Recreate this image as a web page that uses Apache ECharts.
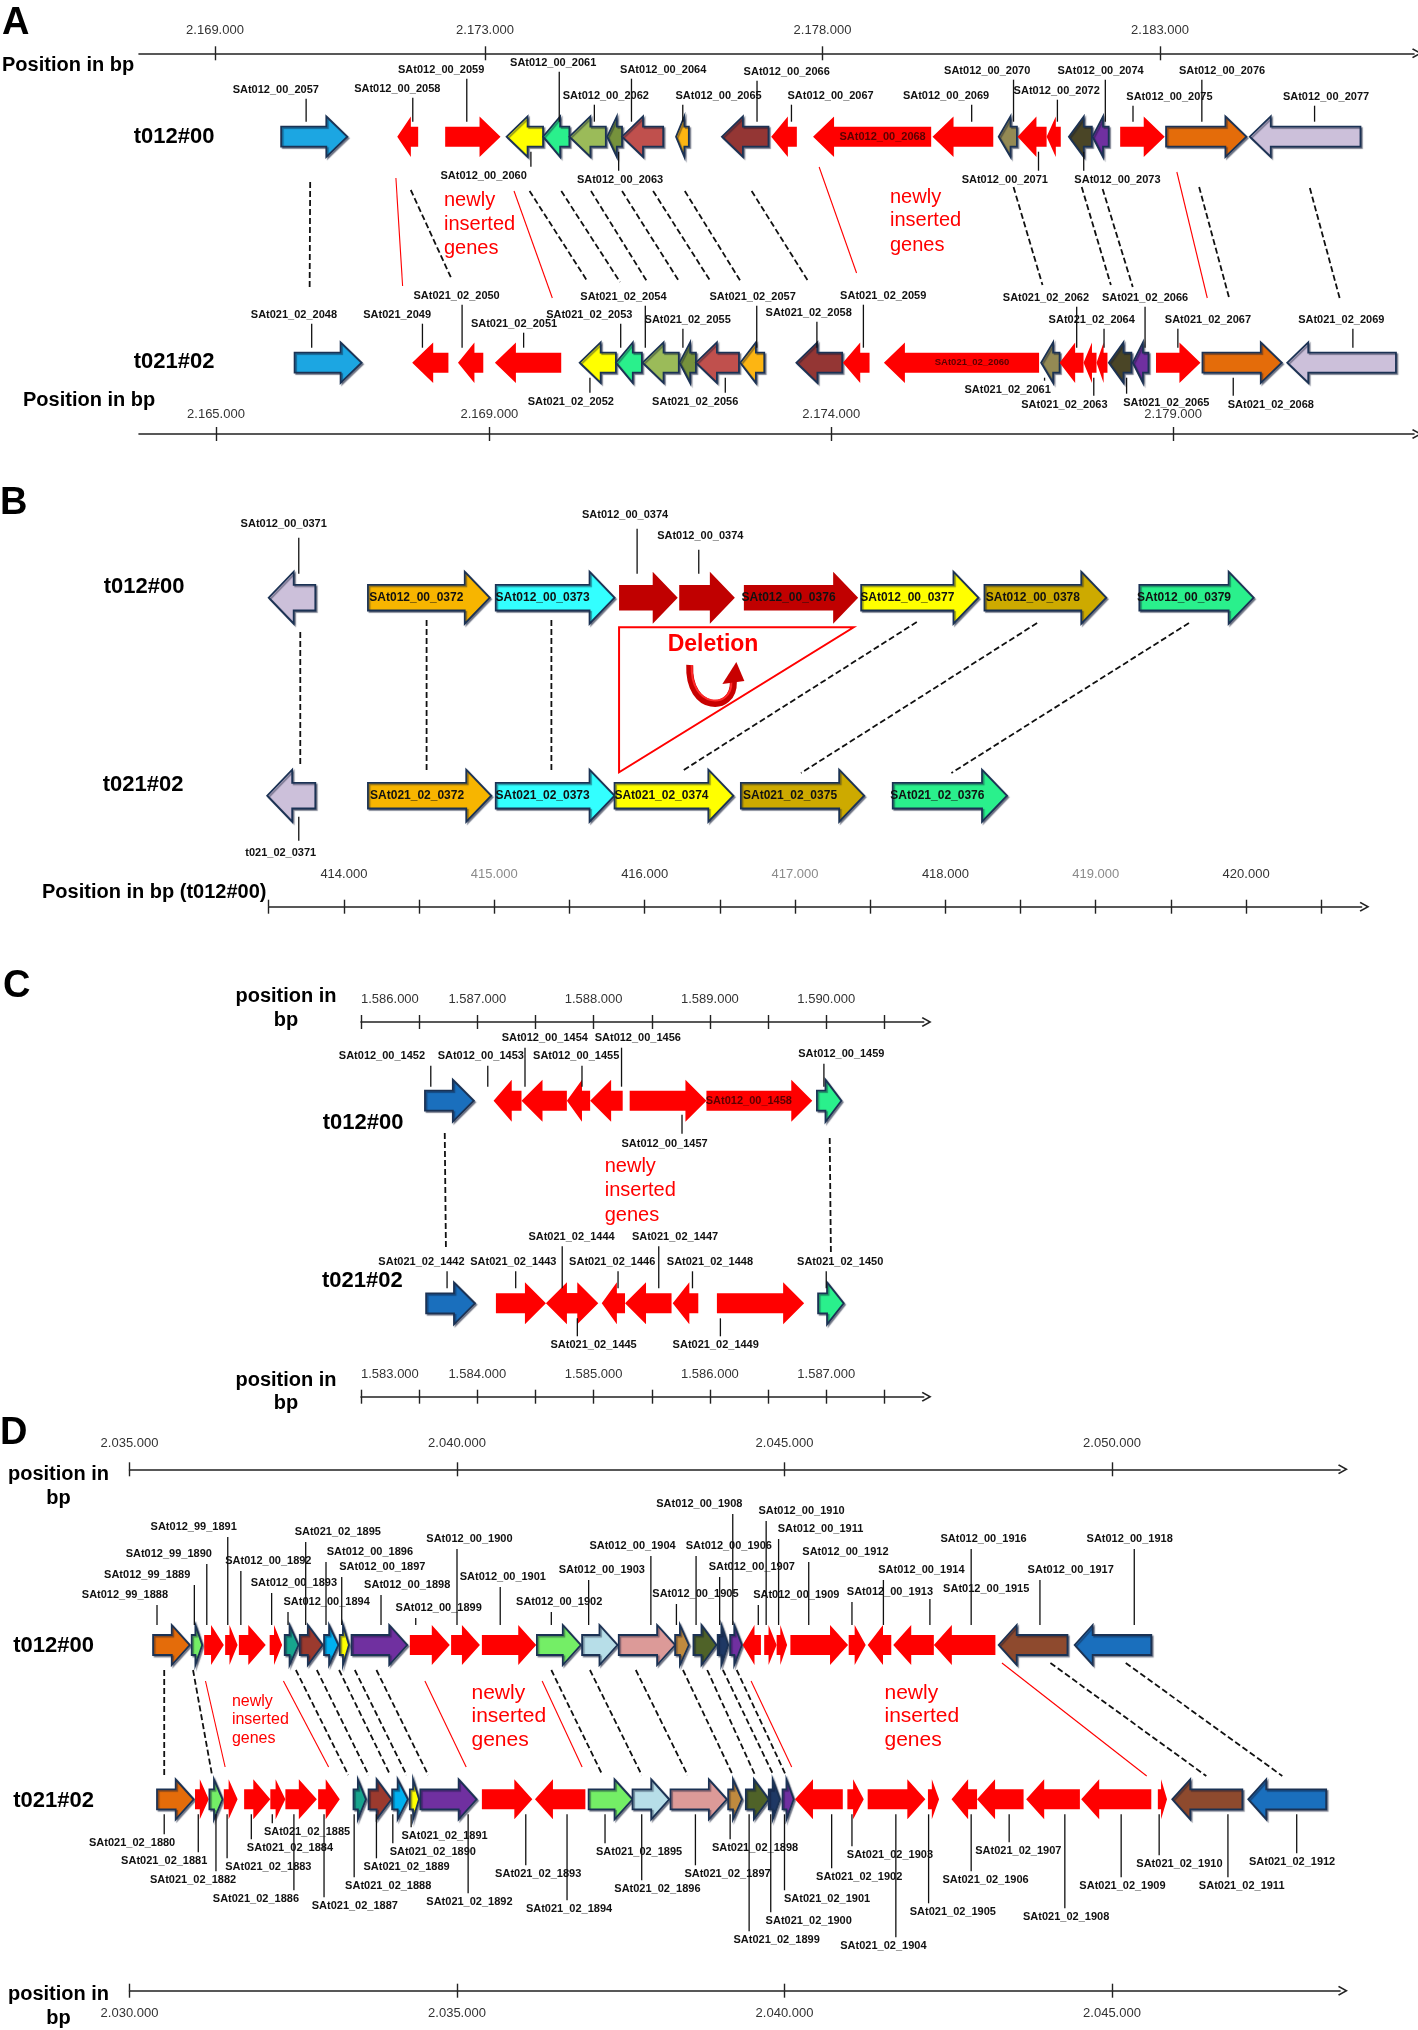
<!DOCTYPE html>
<html><head><meta charset="utf-8">
<script src="https://cdn.jsdelivr.net/npm/echarts@6/dist/echarts.min.js"></script>
<style>html,body{margin:0;padding:0;background:#fff}#chart{width:1418px;height:2030px}</style>
</head><body><div id="chart"></div>
<script>
// ======================= DATA =======================
// gene rows: [name, start bp, end bp, strand, family]
const A_T012 = [
 ['SAt012_00_2057',2169980,2170960, 1,'sky'],
 ['SAt012_00_2058',2171700,2172010,-1,'red'],
 ['SAt012_00_2059',2172410,2173230, 1,'red'],
 ['SAt012_00_2060',2173320,2173860,-1,'yellow'],
 ['SAt012_00_2061',2173860,2174250,-1,'spring'],
 ['SAt012_00_2062',2174250,2174790,-1,'olive'],
 ['SAt012_00_2063',2174810,2175030,-1,'darkolive'],
 ['SAt012_00_2064',2175030,2175640,-1,'indianred'],
 ['SAt012_00_2065',2175830,2176020,-1,'gold'],
 ['SAt012_00_2066',2176510,2177200,-1,'brown'],
 ['SAt012_00_2067',2177240,2177620,-1,'red'],
 ['SAt012_00_2068',2177860,2179610,-1,'red'],
 ['SAt012_00_2069',2179630,2180530,-1,'red'],
 ['SAt012_00_2070',2180610,2180880,-1,'khaki'],
 ['SAt012_00_2071',2180890,2181320,-1,'red'],
 ['SAt012_00_2072',2181320,2181530,-1,'red'],
 ['SAt012_00_2073',2181650,2181990,-1,'dark'],
 ['SAt012_00_2074',2182000,2182240,-1,'purple'],
 ['SAt012_00_2075',2182410,2183070, 1,'red'],
 ['SAt012_00_2076',2183090,2184280, 1,'orange'],
 ['SAt012_00_2077',2184330,2185970,-1,'lavender']
];
const A_T021 = [
 ['SAt021_02_2048',2166150,2167130, 1,'sky'],
 ['SAt021_2049',   2167870,2168400,-1,'red'],
 ['SAt021_02_2050',2168540,2168910,-1,'red'],
 ['SAt021_02_2051',2169080,2170050,-1,'red'],
 ['SAt021_02_2052',2170320,2170850,-1,'yellow'],
 ['SAt021_02_2053',2170850,2171230,-1,'spring'],
 ['SAt021_02_2054',2171240,2171770,-1,'olive'],
 ['SAt021_02_2055',2171780,2172020,-1,'darkolive'],
 ['SAt021_02_2056',2172020,2172650,-1,'indianred'],
 ['SAt021_02_2057',2172670,2173020,-1,'gold'],
 ['SAt021_02_2058',2173490,2174160,-1,'brown'],
 ['SAt021_02_2059',2174170,2174560,-1,'red'],
 ['SAt021_02_2060',2174770,2177040,-1,'red'],
 ['SAt021_02_2061',2177070,2177340,-1,'khaki'],
 ['SAt021_02_2062',2177340,2177690,-1,'red'],
 ['SAt021_02_2063',2177690,2177880,-1,'red'],
 ['SAt021_02_2064',2177880,2178040,-1,'red'],
 ['SAt021_02_2065',2178060,2178390,-1,'dark'],
 ['SAt021_02_2066',2178410,2178640,-1,'purple'],
 ['SAt021_02_2067',2178750,2179400, 1,'red'],
 ['SAt021_02_2068',2179430,2180590, 1,'orange'],
 ['SAt021_02_2069',2180670,2182260,-1,'lavender']
];
// orthologue links: [t012 bp, t021 bp, kind]
const A_LINKS = [
 [2170410,2166370,'dash'],[2171680,2167730,'red'],[2171900,2168440,'dash'],[2173430,2169920,'red'],
 [2173660,2170440,'dash'],[2174130,2170910,'dash'],[2174570,2171310,'dash'],[2175030,2171780,'dash'],
 [2175490,2172240,'dash'],[2175960,2172680,'dash'],[2176950,2173670,'dash'],[2177950,2174370,'red'],
 [2180830,2177090,'dash'],[2181840,2178090,'dash'],[2182150,2178410,'dash'],[2183250,2179500,'red'],
 [2183580,2179820,'dash'],[2185220,2181440,'dash']
];
const A_TOP_TICKS = [2169000,2173000,2178000,2183000];
const A_BOT_TICKS = [2165000,2169000,2174000,2179000];

const B_T012 = [
 ['SAt012_00_0371',413500,413810,-1,'lavender'],
 ['SAt012_00_0372',414160,414970, 1,'amber'],
 ['SAt012_00_0373',415010,415800, 1,'cyan'],
 ['SAt012_00_0374',415830,416220, 1,'darkred'],
 ['SAt012_00_0374',416230,416600, 1,'darkred'],
 ['SAt012_00_0376',416660,417420, 1,'darkred'],
 ['SAt012_00_0377',417440,418220, 1,'yellow'],
 ['SAt012_00_0378',418260,419070, 1,'goldenrod'],
 ['SAt012_00_0379',419290,420050, 1,'spring']
];
const B_T021 = [
 ['t021_02_0371',  413490,413810,-1,'lavender'],
 ['SAt021_02_0372',414160,414980, 1,'amber'],
 ['SAt021_02_0373',415010,415800, 1,'cyan'],
 ['SAt021_02_0374',415800,416590, 1,'yellow'],
 ['SAt021_02_0375',416640,417460, 1,'goldenrod'],
 ['SAt021_02_0376',417650,418410, 1,'spring']
];
const B_LINKS = [
 [413710,413710,'dash'],[414550,414550,'dash'],[415380,415380,'dash'],
 [417810,416260,'dash'],[418610,417040,'dash'],[419620,418040,'dash']
];
const B_DELETION_BP = [415830,417390];   // deleted region, t012#00
const B_UTURN_BP = [416300,416590];
const B_TICKS = [413500,414000,414500,415000,415500,416000,416500,417000,417500,418000,418500,419000,419500,420000,420500];
const B_LABELS = [414000,415000,416000,417000,418000,419000,420000];

const C_T012 = [
 ['SAt012_00_1452',1586550,1586970, 1,'blue'],
 ['SAt012_00_1453',1587140,1587380,-1,'red'],
 ['SAt012_00_1454',1587380,1587770,-1,'red'],
 ['SAt012_00_1455',1587770,1587970,-1,'red'],
 ['SAt012_00_1456',1587970,1588250,-1,'red'],
 ['SAt012_00_1457',1588310,1588970, 1,'red'],
 ['SAt012_00_1458',1588970,1589880, 1,'red'],
 ['SAt012_00_1459',1589920,1590130, 1,'spring']
];
const C_T021 = [
 ['SAt021_02_1442',1583560,1583980, 1,'blue'],
 ['SAt021_02_1443',1584160,1584590, 1,'red'],
 ['SAt021_02_1444',1584590,1584910,-1,'red'],
 ['SAt021_02_1445',1584710,1585040, 1,'red'],
 ['SAt021_02_1446',1585070,1585270,-1,'red'],
 ['SAt021_02_1447',1585270,1585670,-1,'red'],
 ['SAt021_02_1448',1585680,1585900,-1,'red'],
 ['SAt021_02_1449',1586060,1586810, 1,'red'],
 ['SAt021_02_1450',1586930,1587150, 1,'spring']
];
const C_LINKS = [[1586720,1583730,'dash'],[1590030,1587040,'dash']];
const C_TOP_TICKS = [1586000,1586500,1587000,1587500,1588000,1588500,1589000,1589500,1590000,1590500];
const C_TOP_LABELS = [1586000,1587000,1588000,1589000,1590000];
const C_BOT_TICKS = [1583000,1583500,1584000,1584500,1585000,1585500,1586000,1586500,1587000,1587500];
const C_BOT_LABELS = [1583000,1584000,1585000,1586000,1587000];

const D_T012 = [
 ['SAt012_99_1888',2035360,2035920, 1,'orange'],
 ['SAt012_99_1889',2035950,2036110, 1,'lightgreen'],
 ['SAt012_99_1890',2036140,2036440, 1,'red'],
 ['SAt012_99_1891',2036460,2036650, 1,'red'],
 ['SAt012_00_1892',2036670,2037080, 1,'red'],
 ['SAt012_00_1893',2037140,2037330, 1,'red'],
 ['SAt012_00_1894',2037370,2037580, 1,'teal'],
 ['SAt021_02_1895',2037600,2037950, 1,'brownred'],
 ['SAt012_00_1896',2037970,2038190, 1,'sky2'],
 ['SAt012_00_1897',2038210,2038350, 1,'yellow'],
 ['SAt012_00_1898',2038390,2039240, 1,'purple'],
 ['SAt012_00_1899',2039280,2039890, 1,'red'],
 ['SAt012_00_1900',2039910,2040350, 1,'red'],
 ['SAt012_00_1901',2040380,2041210, 1,'red'],
 ['SAt012_00_1902',2041220,2041890, 1,'lightgreen'],
 ['SAt012_00_1903',2041910,2042450, 1,'lightblue'],
 ['SAt012_00_1904',2042470,2043330, 1,'pink'],
 ['SAt012_00_1905',2043330,2043540, 1,'peru'],
 ['SAt012_00_1906',2043610,2043960, 1,'darkolive2'],
 ['SAt012_00_1907',2043980,2044140, 1,'navy'],
 ['SAt012_00_1908',2044170,2044350, 1,'purple'],
 ['SAt012_00_1909',2044360,2044640,-1,'red'],
 ['SAt012_00_1910',2044690,2044880, 1,'red'],
 ['SAt012_00_1911',2044880,2045040, 1,'red'],
 ['SAt012_00_1912',2045090,2045970, 1,'red'],
 ['SAt012_00_1913',2045980,2046240, 1,'red'],
 ['SAt012_00_1914',2046270,2046630,-1,'red'],
 ['SAt012_00_1915',2046660,2047280,-1,'red'],
 ['SAt012_00_1916',2047280,2048220,-1,'red'],
 ['SAt012_00_1917',2048270,2049320,-1,'brown2'],
 ['SAt012_00_1918',2049430,2050600,-1,'blue']
];
const D_T021 = [
 ['SAt021_02_1880',2030420,2030980, 1,'orange'],
 ['SAt021_02_1881',2031000,2031210, 1,'red'],
 ['SAt021_02_1882',2031220,2031420, 1,'lightgreen'],
 ['SAt021_02_1883',2031440,2031650, 1,'red'],
 ['SAt021_02_1884',2031750,2032150, 1,'red'],
 ['SAt021_02_1885',2032150,2032380, 1,'red'],
 ['SAt021_02_1886',2032380,2032860, 1,'red'],
 ['SAt021_02_1887',2032880,2033210, 1,'red'],
 ['SAt021_02_1888',2033420,2033610, 1,'teal'],
 ['SAt021_02_1889',2033650,2034000, 1,'brownred'],
 ['SAt021_02_1890',2034010,2034250, 1,'sky2'],
 ['SAt021_02_1891',2034280,2034420, 1,'yellow'],
 ['SAt021_02_1892',2034440,2035300, 1,'purple'],
 ['SAt021_02_1893',2035380,2036150, 1,'red'],
 ['SAt021_02_1894',2036190,2036960,-1,'red'],
 ['SAt021_02_1895',2037010,2037680, 1,'lightgreen'],
 ['SAt021_02_1896',2037680,2038240, 1,'lightblue'],
 ['SAt021_02_1897',2038260,2039120, 1,'pink'],
 ['SAt021_02_1898',2039140,2039350, 1,'peru'],
 ['SAt021_02_1899',2039410,2039760, 1,'darkolive2'],
 ['SAt021_02_1900',2039760,2039930, 1,'navy'],
 ['SAt021_02_1901',2039970,2040140, 1,'purple'],
 ['SAt021_02_1902',2040160,2040890,-1,'red'],
 ['SAt021_02_1903',2040960,2041210, 1,'red'],
 ['SAt021_02_1904',2041270,2042150, 1,'red'],
 ['SAt021_02_1905',2042190,2042360, 1,'red'],
 ['SAt021_02_1906',2042550,2042940,-1,'red'],
 ['SAt021_02_1907',2042940,2043650,-1,'red'],
 ['SAt021_02_1908',2043690,2044510,-1,'red'],
 ['SAt021_02_1909',2044530,2045600,-1,'red'],
 ['SAt021_02_1910',2045700,2045840, 1,'red'],
 ['SAt021_02_1911',2045920,2046990,-1,'brown2'],
 ['SAt021_02_1912',2047080,2048270,-1,'blue']
];
const D_LINKS = [
 [2035530,2030530,'dash'],[2035970,2031260,'dash'],[2036160,2031460,'red'],[2037350,2033040,'red'],
 [2037540,2033340,'dash'],[2037860,2033650,'dash'],[2038200,2033980,'dash'],[2038440,2034230,'dash'],
 [2038770,2034560,'dash'],[2039510,2035140,'red'],[2041300,2036910,'red'],[2041440,2037220,'dash'],
 [2042030,2037820,'dash'],[2042730,2038520,'dash'],[2043450,2039210,'dash'],[2043820,2039550,'dash'],
 [2044060,2039830,'dash'],[2044270,2040020,'dash'],[2044490,2040110,'red'],[2048320,2045530,'red'],
 [2049060,2046440,'dash'],[2050210,2047600,'dash']
];
const D_TOP_TICKS = [2035000,2040000,2045000,2050000];
const D_BOT_TICKS = [2030000,2035000,2040000,2045000];

// ======================= LAYOUT (label placement, px rows) =======================
// [label centre bp, leader bp, vertical offset px]; null = name written inside arrow
const A_T012_LABEL_POS = [
 [2169900,2170350,-47],[2171700,2171930,-48],[2172350,2172730,-67],[2172980,2173680,39],
 [2174010,2174100,-74],[2174790,2174620,-41],[2175000,2174980,43],[2175640,2175170,-67],
 [2176460,2175930,-41],[2177470,2177030,-65],[2178120,2177540,-41],null,
 [2179830,2180210,-41],[2180440,2180830,-66],[2180700,2181200,43],[2181470,2181480,-46],
 [2182370,2181870,43],[2182120,2182190,-66],[2183140,2182600,-40],[2183920,2183620,-66],
 [2185460,2185290,-40]
];
const A_T021_LABEL_POS = [
 [2166140,2166400,-48],[2167650,2168020,-48],[2168520,2168600,-67],[2169360,2169500,-39],
 [2170190,2170470,39],[2170460,2170920,-48],[2170960,2171280,-66],[2171900,2171830,-43],
 [2172010,2172450,39],[2172850,2172910,-66],[2173670,2173790,-50],[2174760,2174470,-67],
 null,[2176580,2177120,27],[2177140,2177590,-65],[2177410,2177840,42],
 [2177810,2177990,-43],[2178900,2178320,40],[2178590,2178590,-65],[2179510,2179070,-43],
 [2180430,2179880,42],[2181460,2181630,-43]
];
const A_LINK_Y = [[182,288],[178,286],[190,278],[191,298],[191,282],[191,282],[191,282],[191,282],
 [191,282],[191,282],[191,282],[167,273],[187,285],[187,285],[189,287],[172,298],[187,298],[188,299]];
const B_T012_LABEL_POS = [[413600,413700,-74],null,null,[415870,415950,-83],[416370,416360,-62],null,null,null,null];
const B_T021_LABEL_POS = [[413580,413700,57],null,null,null,null,null];
const B_LINK_Y = [[632,765],[620,773],[620,773],[622,770],[623,773],[623,773]];
const C_T012_LABEL_POS = [
 [1586180,1586600,-45],[1587030,1587090,-45],[1587580,1587410,-63],[1587850,1587900,-45],
 [1588380,1588240,-63],[1588610,1588760,43],null,[1590130,1589980,-47]
];
const C_T021_LABEL_POS = [
 [1583520,1583740,-41],[1584310,1584330,-41],[1584810,1584730,-66],[1585000,1584860,42],
 [1585160,1585210,-41],[1585700,1585560,-66],[1586000,1585850,-41],[1586050,1586090,42],
 [1587120,1587000,-41]
];
const C_LINK_Y = [[1133,1247],[1138,1252]];
const D_T012_LABEL_POS = [
 [2034930,2035420,-50],[2035270,2035990,-70],[2035600,2036180,-91],[2035980,2036500,-118],
 [2037120,2036700,-84],[2037510,2037170,-62],[2038010,2037420,-43],[2038180,2037690,-113],
 [2038670,2038000,-93],[2038860,2038240,-78],[2039240,2038840,-60],[2039720,2039370,-37],
 [2040190,2040000,-106],[2040700,2040660,-68],[2041560,2041440,-43],[2042210,2042010,-75],
 [2042680,2042960,-99],[2043640,2043350,-51],[2044150,2043650,-99],[2044500,2044010,-78],
 [2043700,2044210,-141],[2045180,2044600,-50],[2045260,2044720,-134],[2045550,2044910,-116],
 [2045930,2045370,-93],[2046610,2046030,-53],[2047090,2046510,-75],[2048080,2047220,-56],
 [2048040,2047850,-106],[2049370,2048900,-75],[2050270,2050340,-106]
];
const D_T021_LABEL_POS = [
 [2030040,2030530,44],[2030530,2031050,62],[2030970,2031320,81],[2032120,2031490,68],
 [2032450,2031860,49],[2032710,2032180,33],[2031930,2032510,100],[2033440,2032970,107],
 [2033950,2033430,87],[2034230,2033770,68],[2034630,2034020,53],[2034810,2034300,37],
 [2035190,2035170,103],[2036240,2036050,75],[2036710,2036680,110],[2037780,2037260,53],
 [2038060,2037820,90],[2039130,2038640,75],[2039550,2039170,49],[2039880,2039460,141],
 [2040370,2039790,122],[2040650,2040000,100],[2041140,2040720,78],[2041610,2041030,56],
 [2041510,2041700,147],[2042570,2042200,113],[2043070,2042850,81],[2043570,2043430,52],
 [2044300,2044280,118],[2045160,2045140,87],[2046030,2045720,65],[2046980,2046770,87],
 [2047750,2047820,63]
];
const D_LINK_Y = D_LINKS.map((l, i) => i >= 19 ? [1663, 1776] : (l[2] === 'red' ? [1681, 1767] : [1670, 1775]));

// ======================= STYLE =======================
const SANS = "'Liberation Sans',Arial,Helvetica,sans-serif";
const LABEL_FONT = 'bold 11px ' + SANS;
const PALETTE = {
 red:'#ff0000', darkred:'#c00000', sky:'#1ca6e2', yellow:'#ffff00', spring:'#2af08c',
 olive:'#9bbb59', darkolive:'#76923c', indianred:'#c0504d', gold:'#fdb512', brown:'#943634',
 khaki:'#948a54', dark:'#4a4526', purple:'#7030a0', orange:'#e46c0a', lavender:'#ccc0da',
 amber:'#f7b500', cyan:'#33ffff', goldenrod:'#cdaa00', blue:'#1a6fbd', lightgreen:'#74ee66',
 teal:'#17a58e', brownred:'#9b3a2e', sky2:'#00b0f0', lightblue:'#b7dee8', pink:'#dc9a98',
 peru:'#c08a3e', darkolive2:'#4f6228', navy:'#1f3864', brown2:'#8e4a2e'
};
const NO_OUTLINE = ['red','darkred'];
const OUTLINE = '#1b3254';
const CHEVRON = 'path://M5,0 L10,9 L8.7,10 L5,3.2 L1.3,10 L0,9 Z';

function dotted(v) { return String(Math.round(v)).replace(/\B(?=(\d{3})+(?!\d))/g, '.'); }

// axis ranges (bp at the grid edges)
const A_TOP_RANGE = [2167874, 2186763], A_BOT_RANGE = [2163874, 2182524];
const B_RANGE = [413500, 420768];
const C_TOP_RANGE = [1586000, 1590838], C_BOT_RANGE = [1583000, 1587838];
const D_TOP_RANGE = [2035000, 2053481], D_BOT_RANGE = [2030000, 2048481];

const GRIDS = [
 {left:139, top:53.3, width:1275, height:380.7},
 {left:268.7, top:470, width:1092.9, height:436.7},
 {left:361, top:1022, width:562.7, height:374.7},
 {left:129.5, top:1469.3, width:1210.5, height:521.4}
];

function axisPair(gi, pos, range, ticks, labels, inside, margin, color, alignMin) {
 const tickStyle = {color:'#222', width:1.4};
 const main = {
  type:'value', gridIndex:gi, position:pos, min:range[0], max:range[1],
  axisLine:{show:true, onZero:false, symbol:['none', CHEVRON], symbolSize:[10,10], symbolOffset:[0,3],
            lineStyle:{color:'#222', width:1.6}},
  axisTick:{show:true, customValues:ticks, length:7, inside:false, lineStyle:tickStyle},
  axisLabel:{show:true, customValues:labels, inside:inside, margin:margin, formatter:dotted,
             color:color || '#333', fontFamily:SANS, fontSize:13},
  splitLine:{show:false}
 };
 if (alignMin) main.axisLabel.alignMinLabel = 'left';
 const dup = {
  type:'value', gridIndex:gi, position:pos, min:range[0], max:range[1],
  axisLine:{show:false, onZero:false},
  axisTick:{show:true, customValues:ticks, length:7, inside:true, lineStyle:tickStyle},
  axisLabel:{show:false}, splitLine:{show:false}
 };
 return [main, dup];
}

function arrowPoints(x1, x2, y, strand, bh, hh, hlMax) {
 const hl = Math.min(hlMax, Math.abs(x2 - x1) * 0.65);
 if (strand > 0) {
  const xb = x2 - hl;
  return [[x1,y-bh],[xb,y-bh],[xb,y-hh],[x2,y],[xb,y+hh],[xb,y+bh],[x1,y+bh]];
 }
 const xb = x1 + hl;
 return [[x2,y-bh],[xb,y-bh],[xb,y-hh],[x1,y],[xb,y+hh],[xb,y+bh],[x2,y+bh]];
}

function geneSeries(xi, yi, genes, labelPos, t) {
 return {
  type:'custom', xAxisIndex:xi, yAxisIndex:yi, clip:false, silent:true, z:3,
  data: genes.map(g => [g[1], g[2]]),
  renderItem: function (params, api) {
   const g = genes[params.dataIndex];
   const lp = labelPos[params.dataIndex];
   const p1 = api.coord([g[1], t.cy]);
   const p2 = api.coord([g[2], t.cy]);
   const y = p1[1];
   const plain = NO_OUTLINE.indexOf(g[4]) >= 0;
   const style = plain ? {fill: PALETTE[g[4]]}
    : {fill: PALETTE[g[4]], stroke: OUTLINE, lineWidth: 1.8, lineJoin:'miter',
       shadowColor:'rgba(15,25,50,0.45)', shadowOffsetX:1.5, shadowOffsetY:1.5, shadowBlur:1};
   const children = [{
    type:'polygon', shape:{points: arrowPoints(p1[0], p2[0], y, g[3], t.bh, t.hh, t.hl)}, style: style
   }];
   if (!lp) {
    const hl = Math.min(t.hl, (p2[0]-p1[0]) * 0.65);
    const cx = g[3] > 0 ? (p1[0] + p2[0] - hl) / 2 : (p1[0] + hl + p2[0]) / 2;
    children.push({type:'text', x:cx, y:y, style:{text:g[0], font:t.innerFont, fill:t.innerColor,
      align:'center', verticalAlign:'middle', textAlign:'center', textVerticalAlign:'middle'}});
   } else {
    const tx = api.coord([lp[0], t.cy])[0];
    const lx = api.coord([lp[1], t.cy])[0];
    const ly = y + lp[2];
    let ya, yb;
    if (lp[2] < 0) { ya = ly + t.gapLabel; yb = y - t.gapArrow; }
    else { ya = y + t.gapArrow; yb = ly - t.gapLabel; }
    children.push({type:'line', shape:{x1:lx, y1:ya, x2:lx, y2:yb}, style:{stroke:'#111', lineWidth:1.3}});
    children.push({type:'text', x:tx, y:ly, style:{text:g[0], font:LABEL_FONT, fill:'#111',
      align:'center', verticalAlign:'middle', textAlign:'center', textVerticalAlign:'middle'}});
   }
   return {type:'group', children};
  }
 };
}

function linkSeries(xi, yi, links, linkY, topRange, botRange) {
 return {
  type:'custom', xAxisIndex:xi, yAxisIndex:yi, clip:false, silent:true, z:1,
  data: links.map(l => [l[0], l[1]]),
  renderItem: function (params, api) {
   const l = links[params.dataIndex];
   const yy = linkY[params.dataIndex];
   const a = api.coord([l[0], yy[0]]);
   const b0 = api.coord([topRange[0], yy[1]]);
   const b1 = api.coord([topRange[1], yy[1]]);
   let bx;
   if (botRange) bx = b0[0] + (l[1] - botRange[0]) / (botRange[1] - botRange[0]) * (b1[0] - b0[0]);
   else bx = api.coord([l[1], yy[1]])[0];
   const st = l[2] === 'red' ? {stroke:'#ff0000', lineWidth:1.1}
                             : {stroke:'#111', lineWidth:1.8, lineDash:[6,3]};
   return {type:'line', shape:{x1:a[0], y1:a[1], x2:bx, y2:b0[1]}, style:st};
  }
 };
}

const deletionSeries = {
 type:'custom', xAxisIndex:4, yAxisIndex:1, clip:false, silent:true, z:2,
 data:[[B_DELETION_BP[0], B_DELETION_BP[1]]],
 renderItem: function (params, api) {
  const p1 = api.coord([B_DELETION_BP[0], 627.3]);
  const p2 = api.coord([B_DELETION_BP[1], 627.3]);
  const p3 = api.coord([B_DELETION_BP[0], 772.3]);
  const l = api.coord([B_UTURN_BP[0], 667])[0];
  const r = api.coord([B_UTURN_BP[1], 667])[0];
  return {type:'group', children:[
   {type:'polygon', shape:{points:[p1,p2,p3]}, style:{fill:'none', stroke:'#ff0000', lineWidth:2}},
   {type:'bezierCurve', shape:{x1:l, y1:665, cpx1:l-2, cpy1:713, cpx2:r+1, cpy2:713, x2:r, y2:682},
    style:{stroke:'#c80000', lineWidth:7, fill:'none'}},
   {type:'bezierCurve', shape:{x1:l+2, y1:665, cpx1:l, cpy1:709, cpx2:r-1, cpy2:709, x2:r-2, y2:682},
    style:{stroke:'#ff2a2a', lineWidth:2, fill:'none'}},
   {type:'polygon', shape:{points:[[r-11,684],[r+11,681],[r+3,662]]}, style:{fill:'#c80000'}}
  ]};
 }
};

// ======================= TEXT =======================
const texts = [];
function addText(text, x, y, font, fill, align) {
 texts.push({type:'text', x:x, y:y, silent:true, z:10,
  style:{text:text, font:font, fill:fill || '#000', align:align || 'left', verticalAlign:'middle',
         textAlign:align || 'left', textVerticalAlign:'middle'}});
}
const LETTER = 'bold 38px ' + SANS;
const TRACK = 'bold 22px ' + SANS;
const AXNAME = 'bold 20px ' + SANS;
const NEWLY = ['newly', 'inserted', 'genes'];
function newly(x, ys, size) { NEWLY.forEach((w, i) => addText(w, x, ys[i], size + 'px ' + SANS, '#ff0000', 'left')); }

addText('A', 2, 23.5, LETTER);
addText('Position in bp', 2, 65, AXNAME);
addText('t012#00', 174, 136.7, TRACK, '#000', 'center');
addText('t021#02', 174, 361.7, TRACK, '#000', 'center');
addText('Position in bp', 23, 400, AXNAME);
newly(444, [200, 224, 248], 20);
newly(890, [197, 220, 245], 20);

addText('B', 0, 504, LETTER);
addText('t012#00', 144, 587.3, TRACK, '#000', 'center');
addText('t021#02', 143, 785, TRACK, '#000', 'center');
addText('Position in bp (t012#00)', 42, 892.7, AXNAME);
addText('Deletion', 713, 645, 'bold 23px ' + SANS, '#ff0000', 'center');

addText('C', 3, 987, LETTER);
addText('position in', 286, 996.7, AXNAME, '#000', 'center');
addText('bp', 286, 1020, AXNAME, '#000', 'center');
addText('position in', 286, 1380, AXNAME, '#000', 'center');
addText('bp', 286, 1403.3, AXNAME, '#000', 'center');
addText('t012#00', 363, 1123.3, TRACK, '#000', 'center');
addText('t021#02', 362.4, 1280.7, TRACK, '#000', 'center');
newly(604.7, [1166.7, 1190, 1215], 20);

addText('D', 0, 1434, LETTER);
addText('position in', 58.5, 1474, AXNAME, '#000', 'center');
addText('bp', 58.5, 1498.3, AXNAME, '#000', 'center');
addText('position in', 58.5, 1994, AXNAME, '#000', 'center');
addText('bp', 58.5, 2018.3, AXNAME, '#000', 'center');
addText('t012#00', 53.5, 1646, TRACK, '#000', 'center');
addText('t021#02', 53.5, 1800.7, TRACK, '#000', 'center');
newly(231.9, [1701.7, 1719.3, 1738.3], 16);
newly(471.5, [1693.3, 1716.7, 1740.7], 21);
newly(884.5, [1693.3, 1716.7, 1740.7], 21);

// ======================= OPTION =======================
const xAxes = [].concat(
 axisPair(0, 'top', A_TOP_RANGE, A_TOP_TICKS, A_TOP_TICKS, false, 16),
 axisPair(0, 'bottom', A_BOT_RANGE, A_BOT_TICKS, A_BOT_TICKS, true, 13),
 axisPair(1, 'bottom', B_RANGE, B_TICKS, B_LABELS, true, 26, v => (Number(v) % 2000 === 1000 ? '#8a8a8a' : '#333')),
 axisPair(2, 'top', C_TOP_RANGE, C_TOP_TICKS, C_TOP_LABELS, false, 16, null, true),
 axisPair(2, 'bottom', C_BOT_RANGE, C_BOT_TICKS, C_BOT_LABELS, true, 16, null, true),
 axisPair(3, 'top', D_TOP_RANGE, D_TOP_TICKS, D_TOP_TICKS, false, 19),
 axisPair(3, 'bottom', D_BOT_RANGE, D_BOT_TICKS, D_BOT_TICKS, false, 16)
);
const yAxes = GRIDS.map((g, i) => ({type:'value', gridIndex:i, min:g.top, max:g.top + g.height, inverse:true, show:false}));

const TA = {cy:136.7, bh:10, hh:20.3, hl:21, gapLabel:9, gapArrow:15, innerFont:'bold 11px ' + SANS, innerColor:'#5a0000'};
const TA2 = Object.assign({}, TA, {cy:362.7, innerFont:'bold 9.5px ' + SANS});
const TB = {cy:597.7, bh:12.8, hh:26, hl:25, gapLabel:14, gapArrow:24, innerFont:'bold 12px ' + SANS, innerColor:'#111'};
const TB2 = Object.assign({}, TB, {cy:795.7, gapLabel:12, gapArrow:21});
const TC = {cy:1100.7, bh:10, hh:21, hl:21, gapLabel:10, gapArrow:14, innerFont:'bold 11px ' + SANS, innerColor:'#5a0000'};
const TC2 = Object.assign({}, TC, {cy:1303.3, gapLabel:9, gapArrow:15});
const TD = {cy:1645, bh:10, hh:20, hl:18, gapLabel:10, gapArrow:20, innerFont:'bold 11px ' + SANS, innerColor:'#111'};
const TD2 = Object.assign({}, TD, {cy:1799.3, gapLabel:9, gapArrow:15});

const option = {
 animation:false,
 backgroundColor:'#ffffff',
 grid: GRIDS.map(g => Object.assign({containLabel:false, outerBoundsMode:'none', show:false}, g)),
 xAxis: xAxes,
 yAxis: yAxes,
 graphic: {elements: texts},
 series: [
  linkSeries(0, 0, A_LINKS, A_LINK_Y, A_TOP_RANGE, A_BOT_RANGE),
  geneSeries(0, 0, A_T012, A_T012_LABEL_POS, TA),
  geneSeries(2, 0, A_T021, A_T021_LABEL_POS, TA2),
  linkSeries(4, 1, B_LINKS, B_LINK_Y, B_RANGE, null),
  deletionSeries,
  geneSeries(4, 1, B_T012, B_T012_LABEL_POS, TB),
  geneSeries(4, 1, B_T021, B_T021_LABEL_POS, TB2),
  linkSeries(6, 2, C_LINKS, C_LINK_Y, C_TOP_RANGE, C_BOT_RANGE),
  geneSeries(6, 2, C_T012, C_T012_LABEL_POS, TC),
  geneSeries(8, 2, C_T021, C_T021_LABEL_POS, TC2),
  linkSeries(10, 3, D_LINKS, D_LINK_Y, D_TOP_RANGE, D_BOT_RANGE),
  geneSeries(10, 3, D_T012, D_T012_LABEL_POS, TD),
  geneSeries(12, 3, D_T021, D_T021_LABEL_POS, TD2)
 ]
};
const chart = echarts.init(document.getElementById('chart'), null, {renderer:'canvas'});
chart.setOption(option);
</script></body></html>
